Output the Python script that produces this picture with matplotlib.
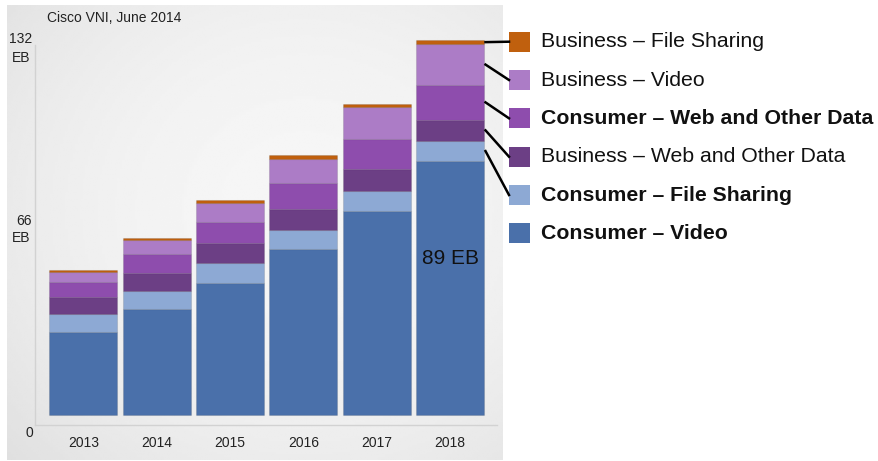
import numpy as np
import matplotlib
matplotlib.use("Agg")
import matplotlib.pyplot as plt
from matplotlib.patches import Rectangle
from matplotlib.lines import Line2D

plt.rcParams['font.family'] = ['Liberation Sans', 'DejaVu Sans']

# ---------------- data (EB per month) ----------------
years = ['2013', '2014', '2015', '2016', '2017', '2018']
consumer_video = [29.3, 37.3, 46.6, 58.3, 71.9, 89.4]
consumer_file = [6.1, 6.3, 7.0, 6.8, 7.0, 7.0]
business_web = [6.0, 6.4, 6.8, 7.3, 7.6, 7.6]
consumer_web = [5.3, 6.6, 7.6, 9.2, 10.8, 12.1]
business_video = [3.7, 4.9, 6.8, 8.6, 11.1, 14.5]
business_file = [0.6, 0.9, 0.8, 1.2, 1.2, 1.3]

series_names = ['Consumer – Video', 'Consumer – File Sharing', 'Business – Web and Other Data',
                'Consumer – Web and Other Data', 'Business – Video', 'Business – File Sharing']
series_values = [consumer_video, consumer_file, business_web, consumer_web, business_video, business_file]
series_colors = ['#4A70AA', '#8DA9D4', '#6C3F85', '#8E4DAD', '#AC7CC6', '#C0600E']
series_bold = [True, True, False, True, False, False]

ytick_values = ['132', '66', '0']
ytick_unit = 'EB'
source_note = 'Cisco VNI, June 2014'
bar_label = '89 EB'

W, H = 879, 461
fig = plt.figure(figsize=(W / 100, H / 100), dpi=100)

def fx(px):
    return px / W

def fy(py):
    return 1 - py / H

# ---------------- gradient panel ----------------
bg = fig.add_axes([fx(7), fy(460), fx(503) - fx(7), fy(5) - fy(460)])
yy, xx = np.mgrid[0:1:200j, 0:1:200j]
r2 = ((xx - 0.6) / 0.8) ** 2 + ((yy - 0.45) / 0.8) ** 2
img = 0.965 - 0.085 * r2
bg.imshow(img, cmap='gray', vmin=0, vmax=1, aspect='auto', extent=[0, 1, 0, 1], interpolation='bilinear')
bg.set_axis_off()

# ---------------- main axes ----------------
px_per = 375 / 132.0
ax = fig.add_axes([fx(35), fy(425), fx(497) - fx(35), fy(35) - fy(425)])
ax.patch.set_alpha(0)
ax.set_ylim(-10 / px_per, (415 - 35) / px_per)
ax.set_xlim((35 - 83.3) / 73.34, (497 - 83.3) / 73.34)

x = np.arange(len(years))
bw = 0.927
bottom = np.zeros(len(years))
seg_mid_last = []
for vals, col in zip(series_values, series_colors):
    v = np.array(vals)
    ax.bar(x, v, bw, bottom=bottom, color=col, edgecolor=(0, 0, 0, 0.10), linewidth=0.8, zorder=3)
    seg_mid_last.append(bottom[-1] + v[-1] / 2)
    bottom = bottom + v

for s in ['top', 'right']:
    ax.spines[s].set_visible(False)
for s in ['left', 'bottom']:
    ax.spines[s].set_color('#d2d2d2')
    ax.spines[s].set_linewidth(1.0)
ax.spines['left'].set_bounds(-10 / px_per, (415 - 45) / px_per)
ax.set_xticks([])
ax.set_yticks([])

# year labels
for i, yr in enumerate(years):
    ax.text(i, (415 - 443) / px_per, yr, ha='center', va='center', fontsize=10,
            color='#222222', clip_on=False)

# bar value label
ax.text(x[-1], consumer_video[-1] * 0.615, bar_label, ha='center', va='center',
        fontsize=15, color='#111111', zorder=5)

# y "tick" labels (placed like the original slide)
label_pix = [(39, 58), (221, 238), (433, None)]
for txt, (y1, y2) in zip(ytick_values, label_pix):
    fig.text(fx(32 if y2 else 33), fy(y1), txt, ha='right', va='center', fontsize=10, color='#222222')
    if y2:
        fig.text(fx(30.5), fy(y2), ytick_unit, ha='right', va='center', fontsize=10, color='#222222')

fig.text(fx(47), fy(18), source_note, ha='left', va='center', fontsize=10, color='#222222')

# ---------------- legend with connectors ----------------
legend_y = [41.7, 80.0, 118.3, 156.7, 195.0, 233.3]  # top to bottom
order = [5, 4, 3, 2, 1, 0]
to_fig = fig.transFigure.inverted()
bar_right = x[-1] + bw / 2
for ly, idx in zip(legend_y, order):
    fig.patches.append(Rectangle((fx(509), fy(ly + 10)), fx(21), fy(ly - 10) - fy(ly + 10),
                                 transform=fig.transFigure, facecolor=series_colors[idx],
                                 edgecolor='none', zorder=5))
    fig.text(fx(541.5), fy(ly), series_names[idx], ha='left', va='center', fontsize=15.3,
             fontweight='bold' if series_bold[idx] else 'normal', color='#111111')
    if idx != 0:
        start = to_fig.transform(ax.transData.transform((bar_right, seg_mid_last[idx])))
        end = (fx(509), fy(ly))
        fig.lines.append(Line2D([start[0] + 1.5 / W, end[0]], [start[1], end[1]],
                                transform=fig.transFigure, color='black', linewidth=1.8, zorder=6))

fig.savefig('out.png', dpi=100)
